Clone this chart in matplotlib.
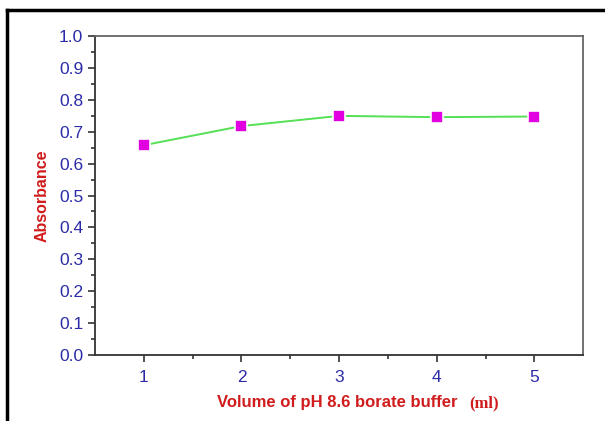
import matplotlib
matplotlib.use("Agg")
from matplotlib import pyplot as plt
from matplotlib.lines import Line2D

volume = [1, 2, 3, 4, 5]
absorbance = [0.658, 0.718, 0.750, 0.746, 0.748]
y_ticks = [0.0, 0.1, 0.2, 0.3, 0.4, 0.5, 0.6, 0.7, 0.8, 0.9, 1.0]

BLUE = '#2b2ba8'
RED = '#d01c1c'

plt.rcParams['font.family'] = ['Liberation Sans', 'DejaVu Sans']

fig = plt.figure(figsize=(6.05, 4.21), dpi=100)
ax = fig.add_axes([0.157, 0.157, 0.807, 0.757])

ax.plot(volume, absorbance, color='#55e055', lw=1.4, marker='s', markersize=8,
        markerfacecolor='#e000e0', markeredgecolor='white', markeredgewidth=1.2)

ax.set_xlim(0.5, 5.5)
ax.set_ylim(0.0, 1.0)
ax.set_xticks(volume)
ax.set_xticks([1.5, 2.5, 3.5, 4.5], minor=True)
ax.set_yticks(y_ticks)
ax.set_yticklabels(['%.1f' % v for v in y_ticks])
ax.set_yticks([0.05 + 0.1 * i for i in range(10)], minor=True)

ax.tick_params(axis='both', which='major', direction='out', length=5, width=1.2,
               labelsize=12.5, labelcolor=BLUE, color='#333333')
ax.tick_params(axis='x', which='major', pad=6)
ax.tick_params(axis='both', which='minor', direction='out', length=3, width=1.2,
               color='#333333')
for side in ['left', 'bottom']:
    ax.spines[side].set_color('#333333')
    ax.spines[side].set_linewidth(1.3)
for side in ['top', 'right']:
    ax.spines[side].set_color('#666666')
    ax.spines[side].set_linewidth(1.3)

ax.set_ylabel('Absorbance', color=RED, fontweight='bold', fontsize=11.5, labelpad=7)

# x label: sans part plus a serif "(ml)"
fig.text(0.558, 0.043, 'Volume of pH 8.6 borate buffer', color=RED, fontweight='bold',
         fontsize=12, ha='center', va='center')
fig.text(0.800, 0.043, '(ml)', color=RED, fontweight='bold', fontsize=12,
         ha='center', va='center', family='Liberation Serif')

# outer frame (top and left edges only)
fig.add_artist(Line2D([0.012, 1.0], [0.976, 0.976], color='black', lw=2.5,
                      transform=fig.transFigure))
fig.add_artist(Line2D([0.012, 0.012], [0.0, 0.976], color='black', lw=2.5,
                      transform=fig.transFigure))

plt.savefig('out.png', dpi=100)
plt.close()
